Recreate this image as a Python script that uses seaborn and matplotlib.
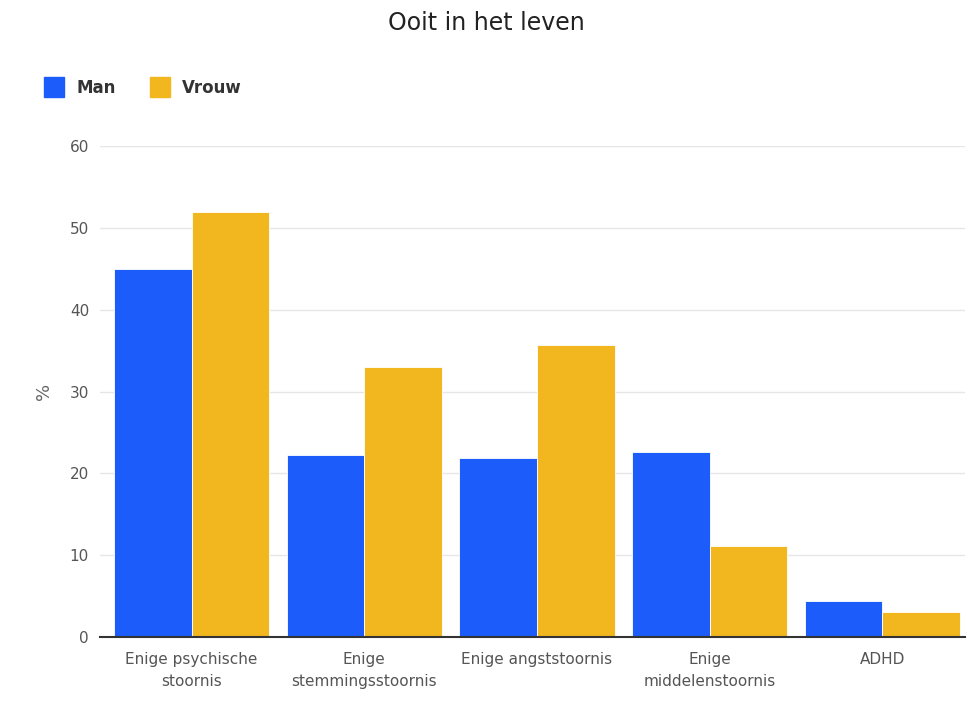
import matplotlib
matplotlib.use("Agg")
import matplotlib.pyplot as plt
import seaborn as sns
import pandas as pd
from matplotlib.lines import Line2D

categories = ["Enige psychische\nstoornis", "Enige\nstemmingsstoornis", "Enige angststoornis",
              "Enige\nmiddelenstoornis", "ADHD"]
man = [45.0, 22.2, 21.9, 22.6, 4.4]
vrouw = [51.9, 33.0, 35.7, 11.1, 3.05]
series = ["Man", "Vrouw"]
colors = ["#1C5CFB", "#F2B71F"]
yticks = [0, 10, 20, 30, 40, 50, 60]

df = pd.DataFrame({
    "cat": categories * 2,
    "val": man + vrouw,
    "sex": [series[0]] * len(categories) + [series[1]] * len(categories),
})

sns.set_theme(style="white")
plt.rcParams['font.family'] = ['DejaVu Sans']

fig = plt.figure(figsize=(9.72, 7.13), dpi=100)
ax = fig.add_axes([0.103, 0.1066, 0.890, 0.6886])

sns.barplot(data=df, x="cat", y="val", hue="sex", palette=colors, width=0.9,
            saturation=1, ax=ax, legend=False, linewidth=0.6, edgecolor="white")

ax.set_ylim(0, 60)
ax.set_yticks(yticks)
ax.set_xlim(-0.53, 4.48)
ax.yaxis.grid(True, color="#E6E6E6", linewidth=1)
ax.set_axisbelow(True)
for s in ["top", "right", "left"]:
    ax.spines[s].set_visible(False)
ax.spines["bottom"].set_color("#333333")
ax.spines["bottom"].set_linewidth(1.5)
ax.tick_params(axis="y", length=0, labelsize=11, colors="#555555", pad=8)
ax.tick_params(axis="x", length=0, labelsize=11, colors="#555555", pad=11)
for lab in ax.get_xticklabels():
    lab.set_linespacing(1.6)
ax.set_xlabel("")
ax.set_ylabel("%", fontsize=13, color="#666666", labelpad=12)

fig.text(0.5, 0.968, "Ooit in het leven", ha="center", va="center", fontsize=17, color="#222222")

handles = [Line2D([0], [0], marker="s", linestyle="", markersize=14, markerfacecolor=c,
                  markeredgecolor=c) for c in colors]
fig.legend(handles, series, loc="center left", bbox_to_anchor=(0.026, 0.877), ncol=2,
           frameon=False, handletextpad=0.55, columnspacing=1.85, handlelength=1.6,
           prop={"weight": "bold", "size": 12})
for t in fig.legends[0].get_texts():
    t.set_color("#333333")

fig.savefig("out.png", dpi=100)
